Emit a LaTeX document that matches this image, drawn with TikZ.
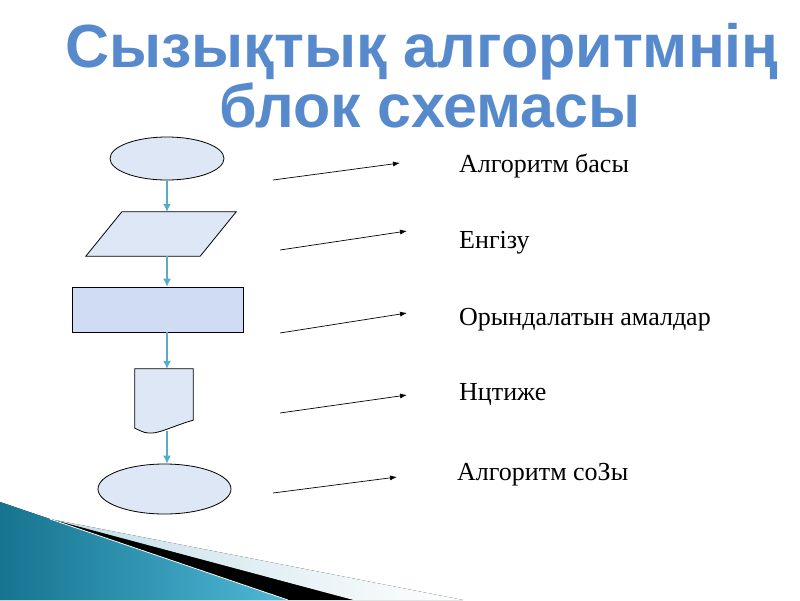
\documentclass[tikz,border=0pt]{standalone}
\usepackage{fontspec}
\setmainfont{Liberation Serif}
\newfontfamily\headfont{Liberation Sans}
\usetikzlibrary{arrows.meta,shapes.geometric,calc}

\definecolor{titleblue}{RGB}{86,138,204}
\definecolor{shapefill}{RGB}{221,231,245}
\definecolor{boxfill}{RGB}{208,220,243}
\definecolor{linkteal}{RGB}{88,172,200}
\definecolor{tealdark}{RGB}{22,116,144}
\definecolor{teallight}{RGB}{78,184,214}
\definecolor{stripegrey}{RGB}{196,222,232}

\begin{document}
\begin{tikzpicture}[x=1pt, y=-1pt]
\tikzset{
  block/.style={draw=black, fill=shapefill, line width=0.8pt, inner sep=0pt},
  link/.style={-{Latex[length=8pt,width=8pt]}, draw=linkteal, fill=linkteal, line width=1.1pt},
  pointer/.style={-{Latex[length=7pt,width=5pt]}, line width=0.7pt},
  blocktext/.style={anchor=base west, inner sep=0pt, font=\fontsize{26}{30}\selectfont},
  headtext/.style={anchor=base, inner sep=0pt, text=titleblue, font=\headfont\bfseries\fontsize{61}{64}\selectfont}
}
\useasboundingbox (0,0) rectangle (800,600);

% corner decoration
\fill[left color=tealdark, right color=teallight] (0,502) -- (288,600) -- (0,600) -- cycle;
\fill[left color=stripegrey, right color=white] (50,519) -- (463,600) -- (353,600) -- cycle;
\fill[black] (50,519) -- (353,600) -- (288,600) -- cycle;
\draw[white, line width=0.8pt] (50,519) -- (288,600);

% title
\node[headtext] (head1) at (422,67) {Сызықтық алгоритмнің};
\node[headtext] (head2) at (430,127) {блок схемасы};

% blocks
\node[block, ellipse, minimum width=114pt, minimum height=43pt] (start) at (167,158.5) {};
\node[inner sep=0pt, minimum width=150pt, minimum height=44pt] (input) at (161,234) {};
\draw[block] (input.south west) -- ($(input.north west)+(36,0)$) -- (input.north east)
   -- ($(input.south east)+(-36,0)$) -- cycle;
\node[block, rectangle, fill=boxfill, minimum width=171pt, minimum height=45pt] (action) at (157.5,309.5) {};
\node[inner sep=0pt, minimum width=58pt, minimum height=64pt] (result) at (164,401) {};
\draw[block] (result.north west) -- (result.north east) -- ($(result.south east)+(0,-13)$)
   .. controls (176,425) and (160,433) .. (152,433) .. controls (145,433) .. ($(result.south west)+(0,-5)$) -- cycle;
\node[block, ellipse, minimum width=133pt, minimum height=50pt] (stop) at (164.5,489) {};

% flow lines
\draw[link] (start.south) -- (start.south |- input.north);
\draw[link] (start.south |- input.south) -- (start.south |- action.north);
\draw[link] (start.south |- action.south) -- (start.south |- result.north);
\draw[link] ($(start.south |- result.south)+(0,-2)$) -- (start.south |- stop.north);

% captions
\node[blocktext] (cap1) at (459,172) {Алгоритм басы};
\node[blocktext] (cap2) at (459,248) {Енгізу};
\node[blocktext] (cap3) at (459,325) {Орындалатын амалдар};
\node[blocktext] (cap4) at (459,400) {Нцтиже};
\node[blocktext] (cap5) at (457,480) {Алгоритм соЗы};

% pointers
\coordinate (p1a) at (273,180); \coordinate (p1b) at (400,163);
\coordinate (p2a) at (280,250); \coordinate (p2b) at (407,231);
\coordinate (p3a) at (280,333); \coordinate (p3b) at (407,313);
\coordinate (p4a) at (280,413); \coordinate (p4b) at (407,395);
\coordinate (p5a) at (273,493); \coordinate (p5b) at (397,477);
\draw[pointer] (p1a) -- (p1b);
\draw[pointer] (p2a) -- (p2b);
\draw[pointer] (p3a) -- (p3b);
\draw[pointer] (p4a) -- (p4b);
\draw[pointer] (p5a) -- (p5b);

\end{tikzpicture}
\end{document}
